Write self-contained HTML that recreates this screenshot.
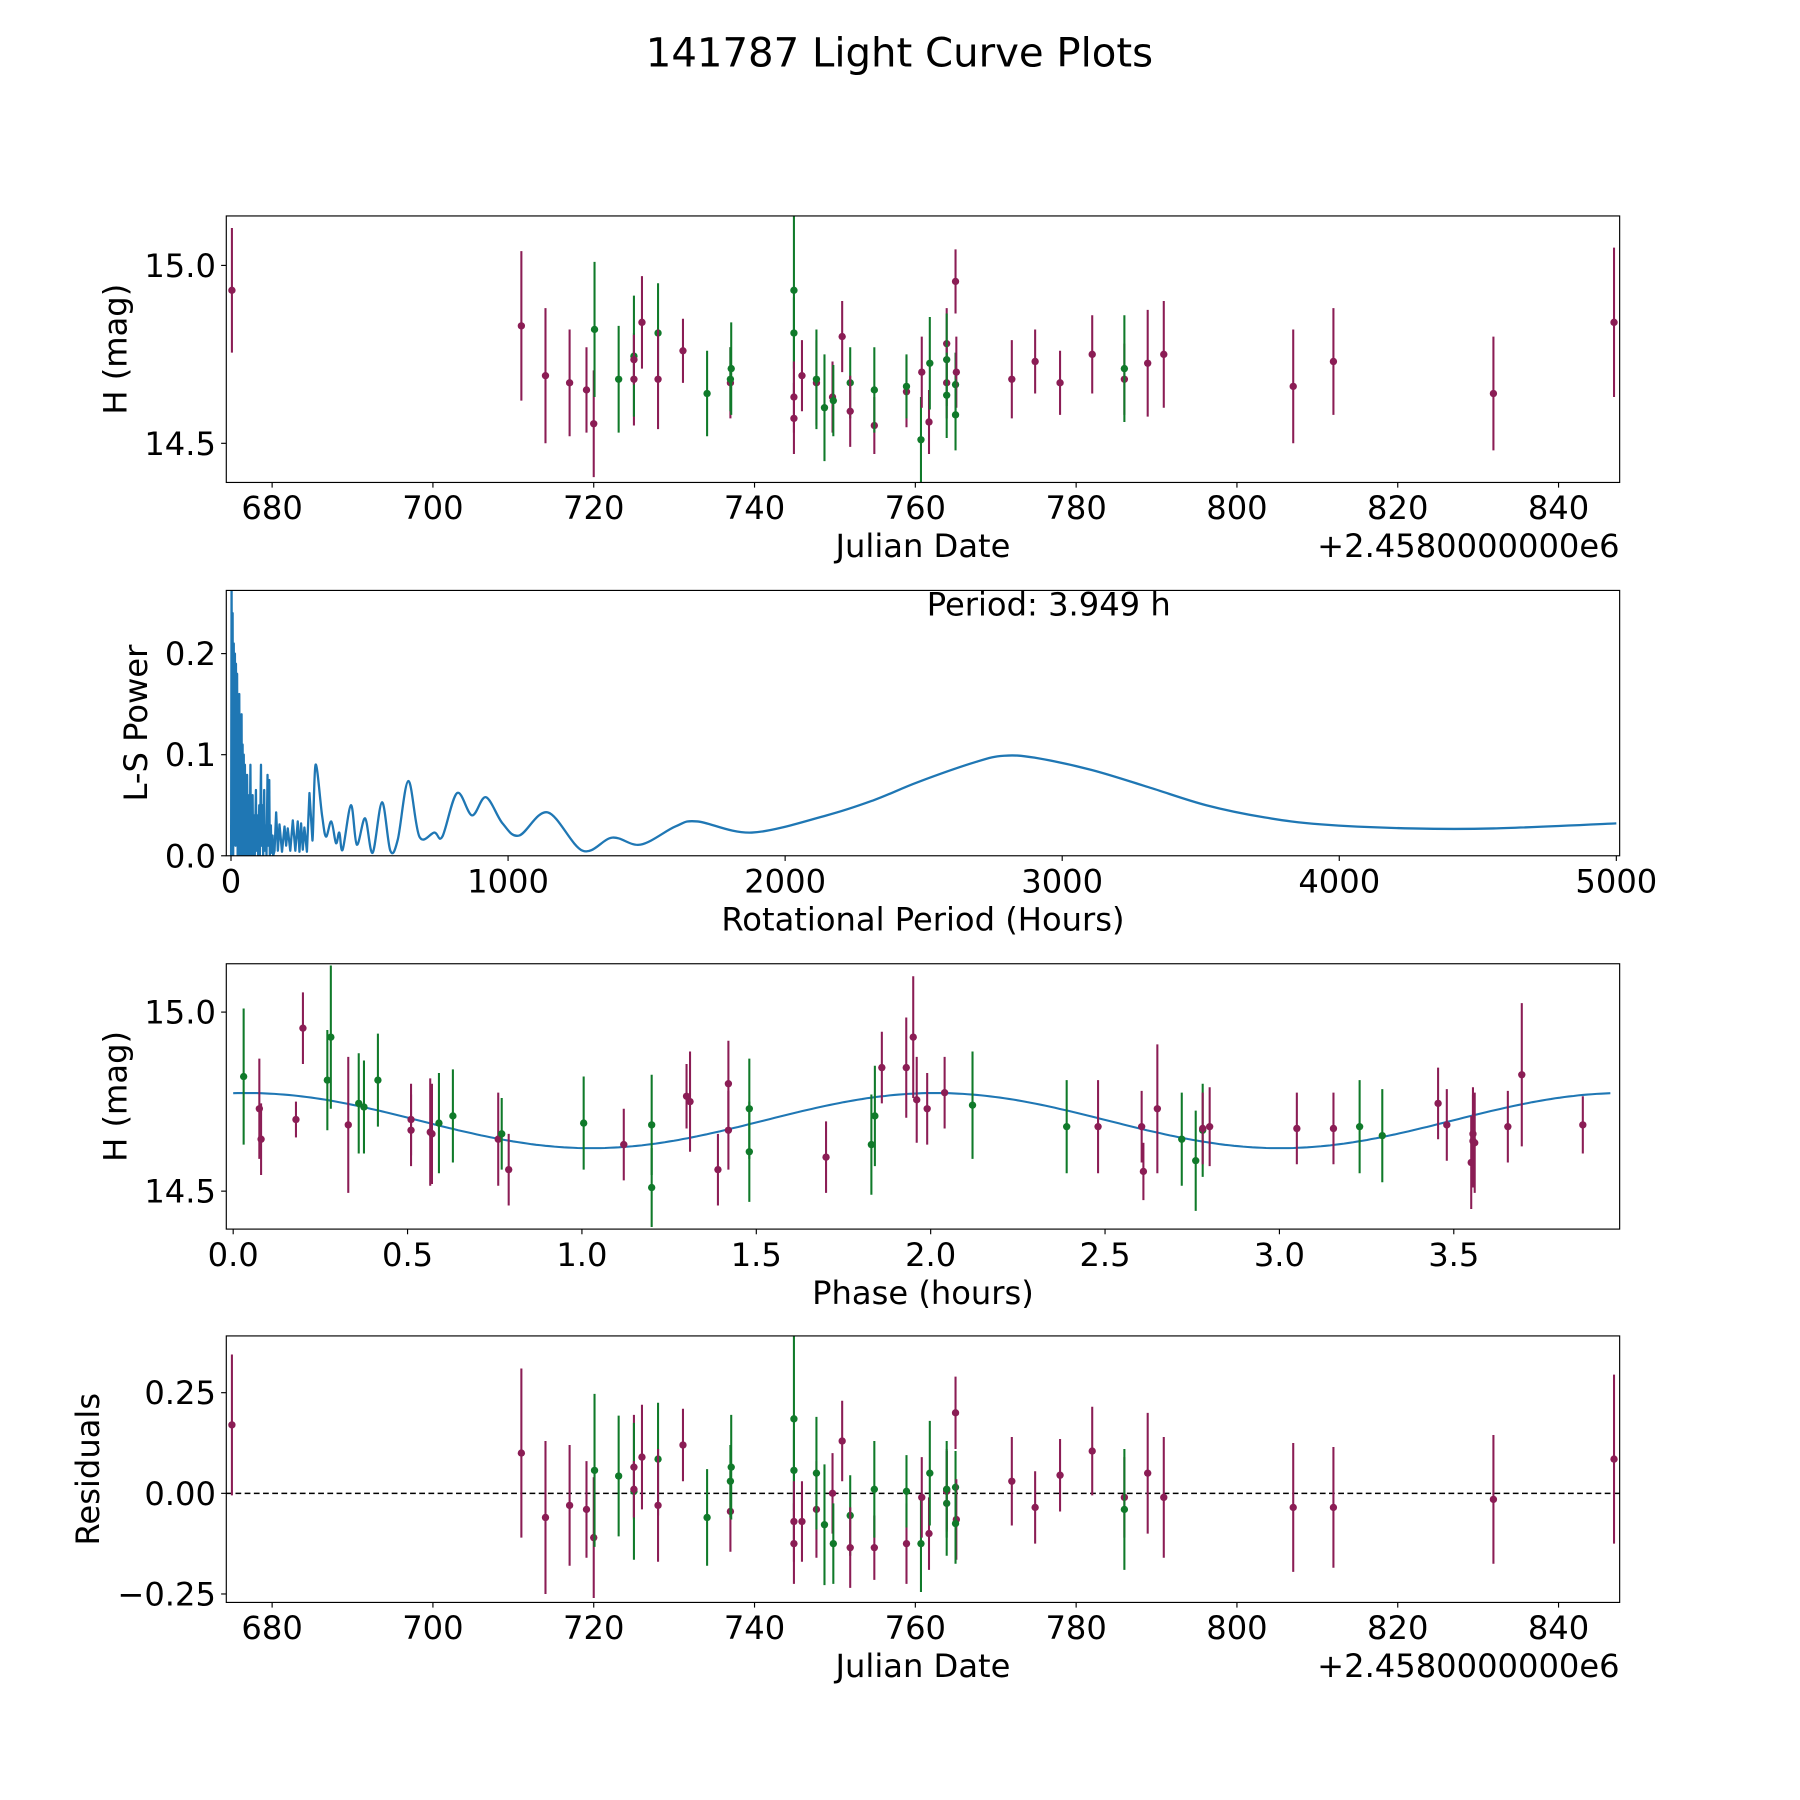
<!DOCTYPE html>
<html><head><meta charset="utf-8"><style>
html,body{margin:0;padding:0;background:#fff}
svg{display:block;font-family:"DejaVu Sans","Liberation Sans",sans-serif}
</style></head><body>
<svg id="fig" width="1800" height="1800" viewBox="0 0 1567 1567" xmlns="http://www.w3.org/2000/svg">
<rect width="1567" height="1567" fill="#fff"/>
<text x="783" y="58" font-size="35" text-anchor="middle">141787 Light Curve Plots</text>
</svg>
<script>
// ---- light curve data (JD offset from 2458000, H mag, error, filter colour) ----
const jdVals=[675.0,711.0,714.0,717.0,719.1,720.0,720.1,723.1,725.0,725.0,725.0,726.0,728.0,728.0,731.1,734.1,737.0,737.1,737.0,744.9,744.9,744.9,744.9,745.9,747.7,747.7,748.7,749.7,749.8,750.9,751.9,751.9,754.9,754.9,758.9,758.9,760.7,760.8,761.7,761.8,763.9,763.9,763.9,763.9,765.0,765.0,765.1,765.0,772.0,774.9,778.0,782.0,786.0,786.0,788.9,790.9,807.0,812.0,831.9,846.9];
const magVals=[14.93,14.83,14.69,14.67,14.65,14.555,14.82,14.68,14.68,14.745,14.735,14.84,14.81,14.68,14.76,14.64,14.67,14.71,14.68,14.93,14.81,14.63,14.57,14.69,14.67,14.68,14.60,14.63,14.62,14.80,14.67,14.59,14.55,14.65,14.645,14.66,14.51,14.70,14.56,14.725,14.78,14.735,14.67,14.635,14.955,14.665,14.70,14.58,14.68,14.73,14.67,14.75,14.68,14.71,14.725,14.75,14.66,14.73,14.64,14.84];
const errVals=[0.175,0.21,0.19,0.15,0.12,0.15,0.19,0.15,0.13,0.17,0.07,0.13,0.14,0.14,0.09,0.12,0.1,0.13,0.09,0.3,0.1,0.1,0.1,0.1,0.12,0.14,0.15,0.1,0.1,0.1,0.1,0.1,0.08,0.12,0.1,0.09,0.12,0.1,0.09,0.13,0.1,0.13,0.1,0.12,0.09,0.09,0.1,0.1,0.11,0.09,0.09,0.11,0.1,0.15,0.15,0.15,0.16,0.15,0.16,0.21];
const bandVals=['P','P','P','P','P','P','G','G','P','G','P','P','G','P','P','G','P','G','G','G','G','P','P','P','P','G','G','P','G','P','G','P','P','G','P','G','G','P','P','G','P','G','P','G','P','G','P','G','P','P','P','P','P','G','P','P','P','P','P','P'];
const residVals=[0.17,0.10,-0.06,-0.03,-0.04,-0.11,0.057,0.043,0.065,0.005,0.01,0.09,0.085,-0.03,0.12,-0.06,-0.045,0.065,0.03,0.185,0.057,-0.07,-0.125,-0.07,-0.04,0.05,-0.078,0.0,-0.125,0.13,-0.055,-0.135,-0.135,0.01,-0.125,0.005,-0.125,-0.01,-0.1,0.05,0.005,-0.025,0.01,0.01,0.2,0.015,-0.065,-0.075,0.03,-0.035,0.045,0.105,-0.01,-0.04,0.05,-0.01,-0.035,-0.035,-0.015,0.085];
// ---- phased data ----
const phaseVals=[0.03,0.075,0.08,0.18,0.20,0.27,0.28,0.33,0.36,0.375,0.415,0.51,0.51,0.565,0.57,0.59,0.63,0.76,0.77,0.79,1.005,1.12,1.20,1.20,1.30,1.31,1.39,1.42,1.42,1.48,1.48,1.70,1.83,1.84,1.86,1.93,1.95,1.96,1.99,2.04,2.12,2.39,2.48,2.605,2.61,2.65,2.72,2.76,2.78,2.78,2.80,3.05,3.155,3.23,3.295,3.455,3.48,3.55,3.555,3.555,3.56,3.655,3.695,3.87];
const phaseMag=[14.82,14.73,14.645,14.70,14.955,14.81,14.93,14.685,14.745,14.735,14.81,14.67,14.70,14.665,14.66,14.69,14.71,14.645,14.66,14.56,14.69,14.63,14.685,14.51,14.765,14.75,14.56,14.80,14.67,14.73,14.61,14.595,14.63,14.71,14.845,14.845,14.93,14.755,14.73,14.775,14.74,14.68,14.68,14.68,14.555,14.73,14.645,14.585,14.67,14.675,14.68,14.675,14.675,14.68,14.655,14.745,14.685,14.58,14.66,14.64,14.635,14.68,14.825,14.685];
const phaseErr=[0.19,0.14,0.1,0.05,0.1,0.14,0.2,0.19,0.14,0.13,0.13,0.1,0.1,0.15,0.14,0.14,0.13,0.13,0.1,0.1,0.13,0.1,0.14,0.11,0.09,0.14,0.1,0.12,0.11,0.14,0.14,0.1,0.14,0.14,0.1,0.14,0.17,0.12,0.1,0.1,0.15,0.13,0.13,0.1,0.08,0.18,0.13,0.14,0.13,0.1,0.11,0.1,0.1,0.13,0.13,0.1,0.1,0.13,0.13,0.13,0.14,0.1,0.2,0.08];
const phaseBand=['G','P','P','P','P','G','G','P','G','G','G','P','P','P','P','G','G','P','G','P','G','P','G','G','P','P','P','P','P','G','G','P','G','G','P','P','P','P','P','P','G','G','P','P','P','P','G','G','G','P','P','P','P','G','G','P','P','P','P','P','P','P','P','P'];
// model sinusoid parameters
const modelMean=14.697, modelAmp=0.077, modelPeak=0.04, modelPeriod=3.949;
// ---- periodogram ----
const lsPeriod=[0.5,2,4,6,8,10,12,14,16,18,20,22,24,26,28,30,32,34,36,38,40,42,44,46,48,50,52,54,56,58,60,62,64,66,68,70,72,74,76,78,80,84,86,90,92,96,98,102,104,108,110,114,116,120,122,126,128,132,134,138,140,144,146,150,152,157,163,169,175,184,193,199,205,214,223,232,241,247,253,259,265,274,283,294,305,329,343,362,379,391,403,433,454,484,511,545,575,602,640,680,734,763,816,870,920,980,1040,1143,1269,1376,1478,1604,1683,1880,2150,2320,2480,2690,2790,2900,3105,3310,3520,3730,3935,4265,4556,5000];
const lsPower=[0,0.27,0.02,0.24,0.0,0.21,0.05,0.20,0.01,0.19,0.03,0.18,0.0,0.15,0.02,0.16,0.0,0.13,0.04,0.14,0.0,0.11,0.02,0.10,0.0,0.09,0.03,0.07,0.0,0.08,0.01,0.05,0.0,0.06,0.02,0.09,0.0,0.05,0.01,0.06,0.0,0.04,0.0,0.065,0.005,0.04,0.0,0.05,0.0,0.09,0.01,0.05,0.0,0.065,0.005,0.03,0.0,0.08,0.01,0.075,0.0,0.03,0.003,0.02,0.0,0.005,0.043,0.005,0.031,0.004,0.029,0.01,0.027,0.005,0.035,0.005,0.034,0.004,0.032,0.006,0.028,0.004,0.062,0.015,0.090,0.039,0.019,0.034,0.0125,0.023,0.006,0.050,0.011,0.037,0.003,0.053,0.005,0.016,0.074,0.019,0.023,0.019,0.062,0.040,0.058,0.032,0.020,0.043,0.005,0.018,0.011,0.029,0.034,0.023,0.040,0.055,0.073,0.093,0.099,0.097,0.085,0.068,0.050,0.038,0.031,0.027,0.027,0.032];
const lsTicks=[0,1000,2000,3000,4000,5000];
const lsYTicks=[0.0,0.1,0.2];
const jdTicks=[680,700,720,740,760,780,800,820,840];
const magTicks=[15.0,14.5];
const phaseTicks=[0.0,0.5,1.0,1.5,2.0,2.5,3.0,3.5];
const residTicks=[0.25,0.00,-0.25];

const NS='http://www.w3.org/2000/svg';
const fig=document.getElementById('fig');
const PUR='#8b1d55', GRN='#107a2a', BLUE='#1f77b4';
const FS=28;
function mk(tag,attrs,parent){const e=document.createElementNS(NS,tag);for(const k in attrs)e.setAttribute(k,attrs[k]);(parent||fig).appendChild(e);return e;}
function lin(d0,d1,p0,p1){return v=>p0+(v-d0)*(p1-p0)/(d1-d0);}
const L=197,R=1410;
function axesFrame(name,top,bot,xs,ys,xt,yt,xfmt,yfmt,xlabel,ylabel,ylx,offset){
  const g=mk('g',{});
  
  
  xt.forEach(v=>{const x=xs(v);
    const t=mk('line',{x1:x,x2:x,y1:bot,y2:bot+4.5,stroke:'#000','stroke-width':1},g);
    
    const l=mk('text',{x:x,y:bot+32,'font-size':FS,'text-anchor':'middle'},g);l.textContent=xfmt(v);
    });
  yt.forEach(v=>{const y=ys(v);
    const t=mk('line',{x1:L-4.5,x2:L,y1:y,y2:y,stroke:'#000','stroke-width':1},g);
    
    const l=mk('text',{x:L-9,y:y+10,'font-size':FS,'text-anchor':'end'},g);l.textContent=yfmt(v);
    });
  const xl=mk('text',{x:(L+R)/2,y:bot+65,'font-size':FS,'text-anchor':'middle'},g);xl.textContent=xlabel;
  
  const cy=(top+bot)/2;
  const yl=mk('text',{x:ylx,y:cy,'font-size':FS,'text-anchor':'middle',transform:`rotate(-90 ${ylx} ${cy})`},g);yl.textContent=ylabel;
  
  if(offset){const o=mk('text',{x:R,y:bot+65,'font-size':FS,'text-anchor':'end'},g);o.textContent=offset;
    }
  return g;
}
function border(top,bot){const b=mk('rect',{x:L,y:top,width:R-L,height:bot-top,fill:'none',stroke:'#000','stroke-width':1});
  }
function clip(id,top,bot){const c=mk('clipPath',{id:id});mk('rect',{x:L,y:top,width:R-L,height:bot-top},c);}
function errPoints(g,xsArr,ysArr,eArr,bArr,xs,ys,cl){
  const pg=mk('g',{'clip-path':`url(#${cl})`},g);
  for(let i=0;i<xsArr.length;i++){
    const col=bArr[i]==='G'?GRN:PUR;const x=xs(xsArr[i]);
    const eb=mk('line',{x1:x,x2:x,y1:ys(ysArr[i]+eArr[i]),y2:ys(ysArr[i]-eArr[i]),stroke:col,'stroke-width':1.8},pg);
    
    const c=mk('circle',{cx:x,cy:ys(ysArr[i]),r:3.2,fill:col},pg);
    
  }
}
const fmt1=v=>v.toFixed(1);
// Panel 1
{const top=188,bot=420;const xs=lin(674.3,847.6,L,R),ys=lin(15.139,14.39,top,bot);
 clip('c1',top,bot);
 const g=axesFrame('lightcurve-panel',top,bot,xs,ys,jdTicks,magTicks,String,fmt1,'Julian Date','H (mag)',110,'+2.4580000000e6');
 errPoints(g,jdVals,magVals,errVals,bandVals,xs,ys,'c1');border(top,bot);}
// Panel 2
{const top=514,bot=745;const xs=lin(-17,5012,L,R),ys=lin(0,0.2625,bot,top);
 clip('c2',top,bot);
 const g=axesFrame('periodogram-panel',top,bot,xs,ys,lsTicks,lsYTicks,String,fmt1,'Rotational Period (Hours)','L-S Power',128,null);
 const P=lsPeriod.map((p,i)=>[xs(p),ys(lsPower[i])]);
 let d='M'+P[0][0].toFixed(1)+' '+P[0][1].toFixed(1);
 for(let i=1;i<P.length;i++){
   if(lsPeriod[i]<=300){d+=' L'+P[i][0].toFixed(1)+' '+P[i][1].toFixed(1);}
   else{const p0=P[i-2]||P[i-1],p1=P[i-1],p2=P[i],p3=P[i+1]||P[i];
     const c1x=p1[0]+(p2[0]-p0[0])/6,c1y=p1[1]+(p2[1]-p0[1])/6,c2x=p2[0]-(p3[0]-p1[0])/6,c2y=p2[1]-(p3[1]-p1[1])/6;
     d+=` C${c1x.toFixed(1)} ${c1y.toFixed(1)} ${c2x.toFixed(1)} ${c2y.toFixed(1)} ${p2[0].toFixed(1)} ${p2[1].toFixed(1)}`;}
 }
 const pth=mk('path',{d:d,fill:'none',stroke:BLUE,'stroke-width':2,'stroke-linejoin':'round','clip-path':'url(#c2)'},g);
 
 const t=mk('text',{x:913,y:536,'font-size':FS,'text-anchor':'middle'},g);t.textContent='Period: 3.949 h';
 
 border(top,bot);}
// Panel 3
{const top=839,bot=1070;const xs=lin(0,0.5,203,354.8),ys=lin(15.135,14.394,top,bot);
 clip('c3',top,bot);
 const g=axesFrame('phased-panel',top,bot,xs,ys,phaseTicks,magTicks,fmt1,fmt1,'Phase (hours)','H (mag)',110,null);
 let d='';for(let i=0;i<=300;i++){const p=modelPeriod*i/300;const m=modelMean+modelAmp*Math.cos(2*Math.PI*(p-modelPeak)/(modelPeriod/2));d+=(i?'L':'M')+xs(p).toFixed(1)+' '+ys(m).toFixed(1)+' ';}
 const pth=mk('path',{d:d,fill:'none',stroke:BLUE,'stroke-width':1.8},g);
 
 errPoints(g,phaseVals,phaseMag,phaseErr,phaseBand,xs,ys,'c3');border(top,bot);}
// Panel 4
{const top=1163,bot=1395;const xs=lin(674.3,847.6,L,R),ys=lin(0.391,-0.271,top,bot);
 clip('c4',top,bot);
 const g=axesFrame('residuals-panel',top,bot,xs,ys,jdTicks,residTicks,String,v=>(v<0?'\u2212':'')+Math.abs(v).toFixed(2),'Julian Date','Residuals',86,'+2.4580000000e6');
 const z=mk('line',{x1:L,x2:R,y1:ys(0),y2:ys(0),stroke:'#000','stroke-width':1.3,'stroke-dasharray':'5,3'},g);
 
 errPoints(g,jdVals,residVals,errVals,bandVals,xs,ys,'c4');border(top,bot);}
</script>
</body></html>
